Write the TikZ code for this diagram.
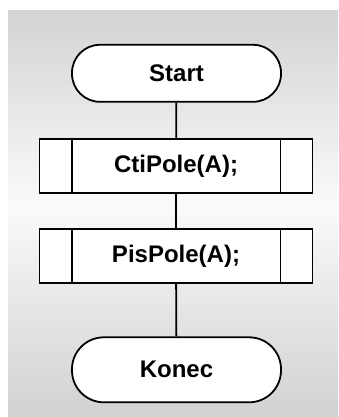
\documentclass[tikz,border=0pt]{standalone}
\usepackage{fontspec}
\setmainfont{Liberation Sans}
\begin{document}
\begin{tikzpicture}[x=1pt,y=1pt,
  every node/.style={font=\fontsize{24}{28}\selectfont\bfseries},
  terminal/.style={draw=black, line width=1.8pt, fill=white,
    minimum width=209pt, minimum height=#1, rounded corners=0.49*#1, inner sep=0pt},
  subproc/.style={draw=black, line width=1.8pt, fill=white,
    minimum width=273pt, minimum height=54pt, inner sep=0pt},
  flow/.style={draw=black, line width=1.8pt}]
  \useasboundingbox (0,0) rectangle (339,417);
  % background panel with a vertical grey gradient
  \shade[top color={rgb,255:red,211;green,211;blue,211}, bottom color={rgb,255:red,250;green,250;blue,250}]
    (8,212) rectangle (338,406);
  \shade[top color={rgb,255:red,250;green,250;blue,250}, bottom color={rgb,255:red,209;green,209;blue,209}]
    (8,0) rectangle (338,212.5);

  \node[terminal=57pt] (start) at (176.5,343.7) {Start};
  \node[subproc] (cti) at (176,250.7) {CtiPole(A);};
  \node[subproc] (pis) at (176,160.7) {PisPole(A);};
  \node[terminal=65pt] (konec) at (176.5,47.2) {Konec};

  % side bars of the predefined-process boxes
  \foreach \n in {cti,pis}{
    \draw[flow] ([xshift=33pt]\n.north west) -- ([xshift=33pt]\n.south west);
    \draw[flow] ([xshift=-33pt]\n.north east) -- ([xshift=-33pt]\n.south east);
  }

  \draw[flow] (start) -- (cti);
  \draw[flow] (cti) -- (pis);
  \draw[flow] (pis) -- (konec);
\end{tikzpicture}
\end{document}
